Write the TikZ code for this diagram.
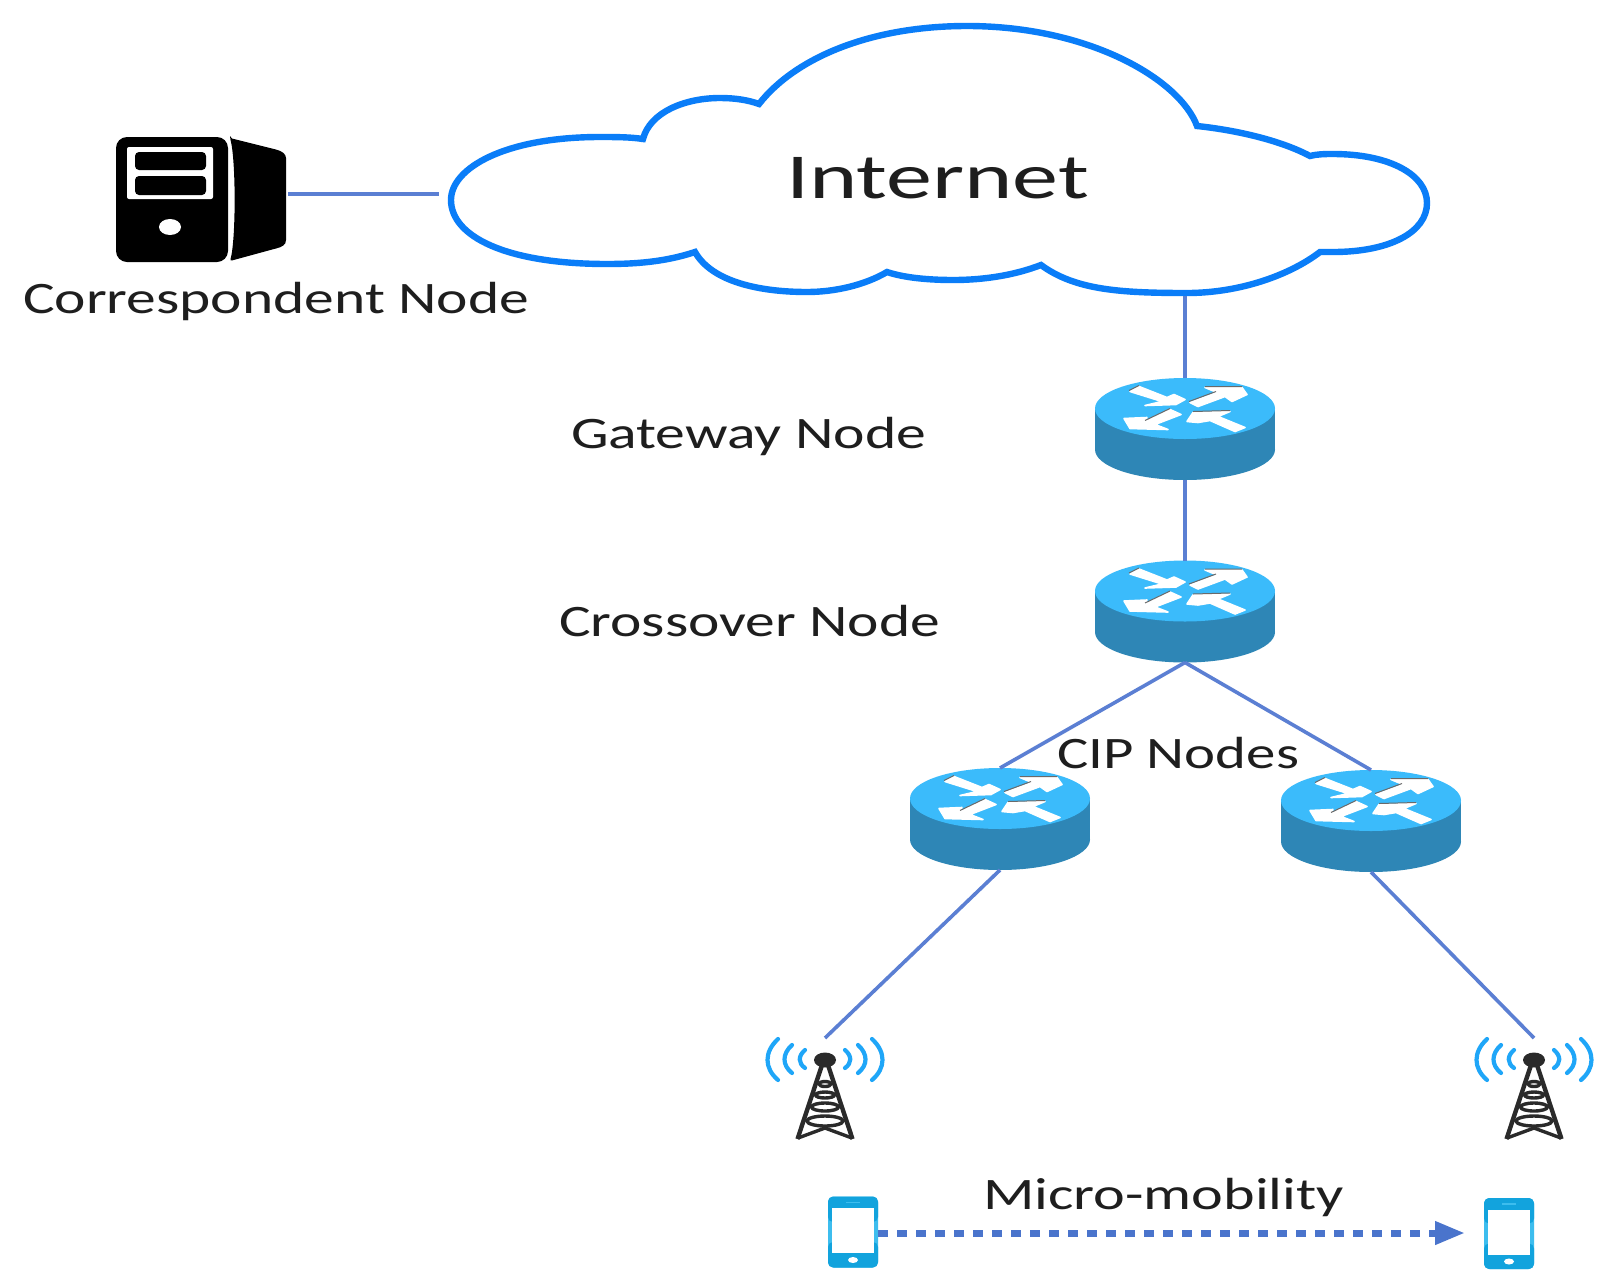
\documentclass[tikz,border=0pt]{standalone}
\usepackage{fontspec}
\usepackage{graphicx}
\setmainfont{Carlito}
\usetikzlibrary{arrows.meta}
\definecolor{linkc}{HTML}{5B7FD3}
\definecolor{cloudc}{HTML}{0A7DF8}
\definecolor{rtop}{HTML}{3BBBFB}
\definecolor{rside}{HTML}{2E86B6}
\definecolor{waves}{HTML}{1FA6F8}
\definecolor{towerc}{HTML}{2A2A2A}
\definecolor{phonec}{HTML}{12A3DD}
\definecolor{phonel}{HTML}{3DBDEE}
\definecolor{dashc}{HTML}{4A74CC}
\definecolor{textc}{HTML}{1E1E1E}
\tikzset{
  link/.style={draw=linkc,line width=3.6pt},
  lab/.style={anchor=base west,inner sep=0pt,outer sep=0pt,text=textc,font=\fontsize{45pt}{50pt}\selectfont},
  anchorbox/.style={inner sep=0pt,outer sep=0pt,rectangle},
  wave/.style={draw=waves,line width=4.2pt,line cap=round},
  lattice/.style={draw=towerc,line width=3.4pt},
  arrowfill/.style={fill=white,draw=white,line width=1.6pt,line join=round},
  router/.pic={
    \fill[rside] (-90,-20.5) rectangle (90,20.5);
    \fill[rside] (0,20.5) ellipse [x radius=90pt,y radius=30.5pt];
    \fill[rtop] (0,-20.5) ellipse [x radius=90pt,y radius=30.5pt];
    \begin{scope}[yshift=20.5pt]
      \path[arrowfill] (-55,-17) -- (-46,-22) -- (-18,-11) -- (-11,-14) -- (0,-9) -- (-9,-4) -- (-40,-3) -- (-23,-7) -- cycle;
      \path[arrowfill] (5,-6) -- (32,-16) -- (20,-21) -- (57,-21) -- (62,-14) -- (47,-7) -- (40,-12) -- (13,-2) -- cycle;
      \path[arrowfill] (-4,6) -- (-15,1) -- (-40,13) -- (-38,9) -- (-61,10) -- (-55,20) -- (-17,21) -- (-30,16) -- cycle;
      \path[arrowfill] (2,13) -- (8,4) -- (45,3) -- (33,8) -- (60,19) -- (50,23) -- (25,12) -- (13,14) -- cycle;
      \draw[towerc!70,line width=1pt] (-56,-18) -- (-46,-23) (4,-7) -- (31,-17) (20,-22) -- (57,-22) (-15,0) -- (-40,12) (8,3) -- (45,2);
    \end{scope}
    \node[anchorbox,minimum width=180pt,minimum height=102pt] (-box) at (0,0) {};
  },
  tower/.pic={
    \foreach \s in {-1,1}{
      \draw[wave] (\s*47,-21) .. controls (\s*61,-8) and (\s*61,8) .. (\s*47,20);
      \draw[wave] (\s*33,-15) .. controls (\s*43,-6) and (\s*43,5) .. (\s*33,13);
      \draw[wave] (\s*20,-10) .. controls (\s*27,-4) and (\s*27,3) .. (\s*20,8);
    }
    \draw[lattice,line width=4.4pt] (-3,5) -- (-27.5,79);
    \draw[lattice,line width=4.4pt] (3,5) -- (27.5,79);
    \draw[lattice] (0,24) ellipse [x radius=6pt,y radius=2.5pt];
    \draw[lattice] (0,35) ellipse [x radius=9.5pt,y radius=3pt];
    \draw[lattice] (0,47) ellipse [x radius=13.5pt,y radius=4pt];
    \draw[lattice] (0,61) ellipse [x radius=18pt,y radius=5pt];
    \draw[lattice] (-27,78) -- (0,68) -- (27,78);
    \fill[towerc] (0,0) ellipse [x radius=11pt,y radius=7.5pt];
    \node[anchorbox,minimum width=4pt,minimum height=4pt] (-top) at (0,-22) {};
  },
  phone/.pic={
    \fill[phonel,rounded corners=6pt] (-25,-35.5) rectangle (25,35.5);
    \fill[phonec,rounded corners=5pt] (-25,-35.5) rectangle (25,-10);
    \fill[phonec,rounded corners=5pt] (-25,10) rectangle (25,35.5);
    \fill[white] (-21,-24) rectangle (21,21);
    \fill[phonel] (-7,-30.5) rectangle (7,-29);
    \fill[white] (0,28) ellipse [x radius=5pt,y radius=3pt];
    \node[anchorbox,minimum width=50pt,minimum height=71pt] (-box) at (0,0) {};
  }
}
\begin{document}
\begin{tikzpicture}[x=1pt,y=-1pt]
\useasboundingbox (0,0) rectangle (1618,1286);
\fill[white] (0,0) rectangle (1618,1286);

% cloud
\draw[cloudc,line width=6.4pt,line join=miter,fill=white]
  (695,252) .. controls (665,262) and (635,264) .. (607,264)
  .. controls (505,264) and (451,236) .. (451,200)
  .. controls (451,168) and (505,137) .. (600,137)
  .. controls (615,137) and (630,137) .. (643,139)
  .. controls (650,112) and (685,98) .. (720,98)
  .. controls (735,98) and (748,100) .. (759,104)
  .. controls (795,58) and (870,26) .. (967,26)
  .. controls (1090,26) and (1180,80) .. (1197,126)
  .. controls (1235,130) and (1280,140) .. (1310,156)
  .. controls (1318,154) and (1325,154) .. (1333,154)
  .. controls (1390,154) and (1427,175) .. (1427,203)
  .. controls (1427,232) and (1390,252) .. (1333,252)
  .. controls (1328,252) and (1324,252) .. (1320,252)
  .. controls (1290,275) and (1240,293) .. (1187,293)
  .. controls (1120,293) and (1075,290) .. (1041,265)
  .. controls (1015,275) and (985,280) .. (953,280)
  .. controls (930,280) and (905,278) .. (887,272)
  .. controls (865,285) and (835,292) .. (807,292)
  .. controls (760,292) and (712,282) .. (695,252) -- cycle;
\node[lab,font=\fontsize{64pt}{70pt}\selectfont] (inet) at (786,198) {\resizebox{303pt}{\height}{Internet}};
\coordinate (cloudw) at (439,194);
\coordinate (cloudb) at (1185,296);

% server
\begin{scope}[xshift=-2pt]
\fill[black,rounded corners=11pt] (118,137) rectangle (230,262);
\fill[black,rounded corners=2pt] (232,138) -- (276,149) .. controls (284,151) and (288,154) .. (288,160) -- (288,238) .. controls (288,245) and (284,247) .. (276,249) -- (232,261) .. controls (238,240) and (238,160) .. (232,138) -- cycle;
\fill[white,rounded corners=2pt] (129,147) rectangle (215,199);
\fill[black,rounded corners=4pt] (137,152) rectangle (208,170);
\fill[black,rounded corners=4pt] (137,176) rectangle (208,195);
\fill[white] (172,227) ellipse [x radius=11pt,y radius=8pt];
\node[anchorbox,minimum width=170pt,minimum height=125pt] (srv) at (203,199.5) {};
\coordinate (srvport) at (290,194);
\end{scope}
\node[lab] (srvlab) at (23,313) {\resizebox{506pt}{\height}{Correspondent Node}};

% routers
\pic (gw) at (1185,429) {router};
\pic (cross) at (1185,611.5) {router};
\pic (cipl) at (1000,819) {router};
\pic (cipr) at (1371,821) {router};

% towers
\pic (towl) at (825,1060) {tower};
\pic (towr) at (1534,1060) {tower};

% phones
\pic (phl) at (853,1232) {phone};
\pic (phr) at (1509,1233.5) {phone};
\coordinate (tip) at (1465,1233);

% connectors
\draw[link] (srvport) -- (cloudw);
\draw[link] (cloudb) -- (gw-box.north);
\draw[link] (gw-box.south) -- (cross-box.north);
\draw[link] (cross-box.south) -- (cipl-box.north);
\draw[link] (cross-box.south) -- (cipr-box.north);
\draw[link] (cipl-box.south) -- (towl-top.center);
\draw[link] (cipr-box.south) -- (towr-top.center);
\draw[draw=dashc,line width=7pt,dash pattern=on 10pt off 9pt,-{Triangle[length=30pt,width=22pt,fill=dashc]}] (phl-box.east |- tip) -- (tip);

% labels
\node[lab] (gwlab) at (571,448) {\resizebox{355pt}{\height}{Gateway Node}};
\node[lab] (crlab) at (559,636) {\resizebox{381pt}{\height}{Crossover Node}};
\node[lab] (ciplab) at (1057,768) {\resizebox{242pt}{\height}{CIP Nodes}};
\node[lab] (mmlab) at (983,1209) {\resizebox{361pt}{\height}{Micro-mobility}};
\end{tikzpicture}
\end{document}
